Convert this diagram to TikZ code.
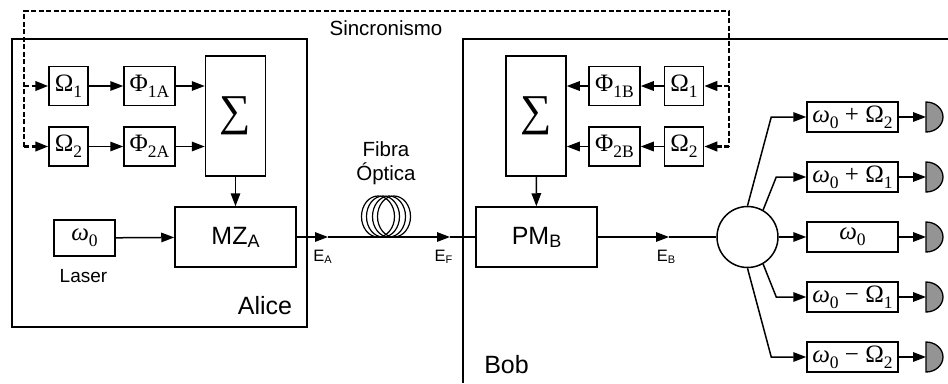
\documentclass[tikz,border=0pt]{standalone}
\usepackage{fontspec}
\setmainfont{Liberation Sans}
\newfontfamily\tms{Liberation Serif}
\usetikzlibrary{arrows.meta}
\newcommand\lo[1]{\raisebox{-6pt}{\fontsize{17.5}{17.5}\selectfont #1}}
\newcommand\sanslo[1]{\raisebox{-3pt}{\fontsize{18}{18}\selectfont #1}}
\newcommand\elo[1]{\raisebox{-2pt}{\fontsize{11}{11}\selectfont #1}}
\newcommand\omg{{\itshape ω}}
\begin{document}
\begin{tikzpicture}[x=1pt,y=-1pt,
  arr/.style={-{Triangle[length=13pt,width=9.5pt]}},
  conn/.style={line width=1.5pt},
  frame/.style={line width=2.8pt},
  sync/.style={line width=2.5pt,dash pattern=on 5pt off 2.5pt},
  box/.style={draw,line width=1.5pt,inner sep=0pt,font=\fontsize{25}{25}\selectfont\tms},
  sbox/.style={box,minimum width=39pt,minimum height=39pt},
  pbox/.style={box,minimum width=51pt,minimum height=39pt},
  sigbox/.style={box,minimum width=60pt,minimum height=120pt,font=\fontsize{44}{44}\selectfont\tms},
  modbox/.style={box,minimum width=121pt,minimum height=60pt,font=\fontsize{25}{25}\selectfont},
  fbox/.style={box,minimum width=91pt,minimum height=30pt},
  lbl/.style={inner sep=0pt,anchor=base,font=\fontsize{20.5}{20.5}\selectfont},
  big/.style={inner sep=0pt,anchor=base,font=\fontsize{25}{25}\selectfont},
  elbl/.style={inner sep=0pt,anchor=base,font=\fontsize{16.5}{16.5}\selectfont},
  det/.style={line width=1.3pt,fill=black!42}]
\useasboundingbox (0,0) rectangle (948,383);
% frames
\draw[frame] (12,39) rectangle (307,327);
\draw[frame] (948,39) -- (463,39) -- (463,383);
% Alice blocks
\node[sbox] (oA1) at (68.5,86) {Ω\lo{1}};
\node[pbox] (pA1) at (149.5,86) {Φ\lo{1A}};
\node[sbox] (oA2) at (68.5,146.5) {Ω\lo{2}};
\node[pbox] (pA2) at (149.5,146.5) {Φ\lo{2A}};
\node[sigbox] (sA) at (235.5,116) {∑};
\node[modbox] (mz) at (235.5,237) {MZ\sanslo{A}};
\node[box,minimum width=61pt,minimum height=36pt] (las) at (84.5,238) {\omg\lo{0}};
\node[lbl,font=\fontsize{19}{19}\selectfont] (laser) at (83.5,282) {Laser};
\node[big] (alice) at (265,314) {Alice};
% Bob blocks
\node[sigbox] (sB) at (536,116) {∑};
\node[pbox] (pB1) at (614.5,86) {Φ\lo{1B}};
\node[sbox] (oB1) at (684,86) {Ω\lo{1}};
\node[pbox] (pB2) at (614.5,146.5) {Φ\lo{2B}};
\node[sbox] (oB2) at (684,146.5) {Ω\lo{2}};
\node[modbox] (pm) at (536.5,237) {PM\sanslo{B}};
\node[big] (bob) at (506.5,373) {Bob};
\node[draw,circle,line width=1.5pt,minimum size=61pt,inner sep=0pt] (split) at (747.5,237) {};
% filters
\node[fbox] (f1) at (852.5,117) {\omg\lo{0} + Ω\lo{2}};
\node[fbox] (f2) at (852.5,177) {\omg\lo{0} + Ω\lo{1}};
\node[fbox] (f3) at (852.5,237) {\omg\lo{0}};
\node[fbox] (f4) at (852.5,297) {\omg\lo{0} − Ω\lo{1}};
\node[fbox] (f5) at (852.5,357) {\omg\lo{0} − Ω\lo{2}};
% detectors
\coordinate (d1) at (926,117);
\coordinate (d2) at (926,177);
\coordinate (d3) at (926,237);
\coordinate (d4) at (926,297);
\coordinate (d5) at (926,357);
\foreach \d in {d1,d2,d3,d4,d5}
  \draw[det] (\d) ++(0,-15) arc[start angle=90,end angle=-90,x radius=17pt,y radius=15pt] -- cycle;
% labels
\node[lbl] (sinc) at (386,35) {Sincronismo};
\node[lbl] (fib1) at (386,156) {Fibra};
\node[lbl] (fib2) at (386,180) {Óptica};
\node[elbl] (eA) at (322.5,261) {E\elo{A}};
\node[elbl] (eF) at (443.5,261) {E\elo{F}};
\node[elbl] (eB) at (666,261) {E\elo{B}};
% sync lines
\coordinate (sl1) at (24,86);
\coordinate (sl2) at (24,146.5);
\coordinate (sr1) at (729,86);
\coordinate (sr2) at (729,146.5);
\coordinate (stl) at (24,11);
\coordinate (str) at (729,11);
\draw[sync] (sl2) -- (stl) -- (str) -- (sr2);
\draw[sync,arr] (sl1) -- (oA1);
\draw[sync,arr] (sl2) -- (oA2);
\draw[sync,arr] (sr1) -- (oB1);
\draw[sync,arr] (sr2) -- (oB2);
% Alice connectors
\draw[conn,arr] (oA1) -- (pA1);
\draw[conn,arr] (oA2) -- (pA2);
\draw[conn,arr] (pA1.east) -- (pA1.east -| sA.west);
\draw[conn,arr] (pA2.east) -- (pA2.east -| sA.west);
\draw[conn,arr] (sA) -- (mz);
\draw[conn,arr] (las) -- (mz);
% Bob connectors
\draw[conn,arr] (oB1) -- (pB1);
\draw[conn,arr] (oB2) -- (pB2);
\draw[conn,arr] (pB1.west) -- (pB1.west -| sB.east);
\draw[conn,arr] (pB2.west) -- (pB2.west -| sB.east);
\draw[conn,arr] (sB) -- (pm);
% fibre link
\coordinate (tA) at (328,237);
\coordinate (tF) at (450,237);
\coordinate (tB) at (669,237);
\draw[conn,arr] (mz.east) -- (tA);
\draw[conn,arr] (tA) -- (tF);
\draw[conn] (tF) -- (pm.west);
\foreach \cx in {378,383,389,394}
  \draw[line width=1.2pt] (\cx,216.5) ellipse[x radius=16.5pt,y radius=20.5pt];
\draw[conn,arr] (pm.east) -- (tB);
\draw[conn] (tB) -- (split.west);
% splitter outputs
\draw[conn,arr] (split.north) -- ([xshift=-35pt]f1.west) -- (f1.west);
\draw[conn,arr] (split.60) -- ([xshift=-30pt]f2.west) -- (f2.west);
\draw[conn,arr] (split.east) -- (f3.west);
\draw[conn,arr] (split.-60) -- ([xshift=-30pt]f4.west) -- (f4.west);
\draw[conn,arr] (split.south) -- ([xshift=-35pt]f5.west) -- (f5.west);
\draw[conn,arr] (f1) -- (d1);
\draw[conn,arr] (f2) -- (d2);
\draw[conn,arr] (f3) -- (d3);
\draw[conn,arr] (f4) -- (d4);
\draw[conn,arr] (f5) -- (d5);
\end{tikzpicture}
\end{document}
